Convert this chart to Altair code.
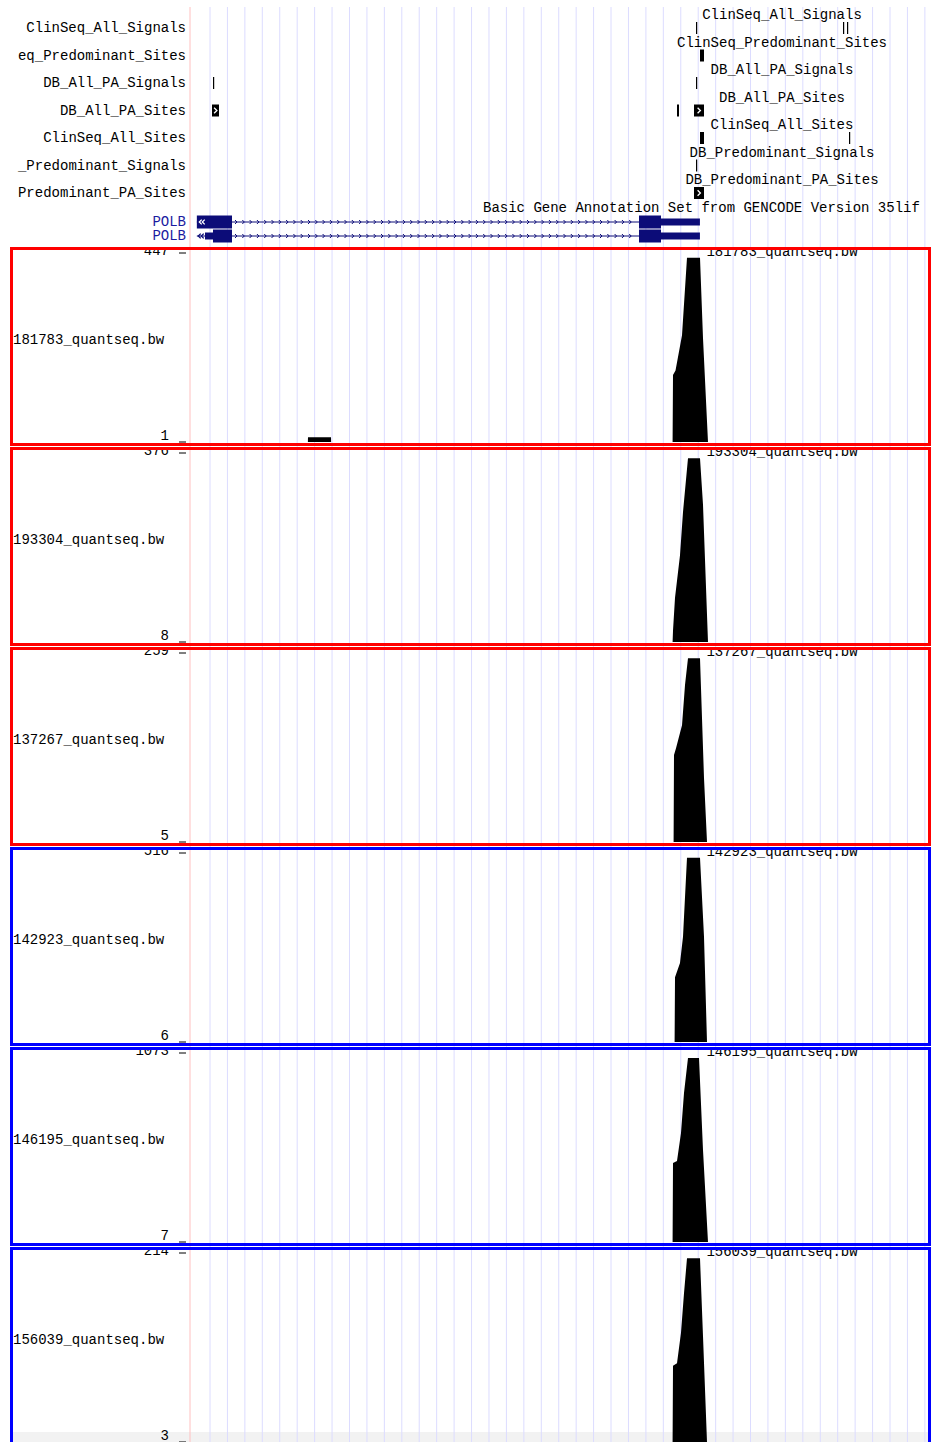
import altair as alt
import pandas as pd

# ---- browser window: chr8, drawn to the right of the label gutter ----
WIN_START = 42_338_000
WIN_END = 42_387_128
PIX_LEFT, PIX_RIGHT = 190, 931
W = 934
HEADER_H = 247
PANEL_H = 200
LAST_H = 195

FONT = "Liberation Mono"
FS = 14
NAVY = "#0c0c78"
GENE_LABEL = "#1a1aa0"
GUIDE = "#dcdcff"
PINK = "#ffc0c0"

x_scale = alt.Scale(domain=[WIN_START, WIN_END], range=[PIX_LEFT, PIX_RIGHT], nice=False, zero=False)

# vertical guidelines every ~1.16 kb
GUIDE_FIRST = 42_339_326
GUIDE_STEP = 1156
GUIDE_COUNT = 42
guide_pos = [GUIDE_FIRST + i * GUIDE_STEP for i in range(GUIDE_COUNT)]

# ---- annotation tracks ----
track_names = [
    "ClinSeq_All_Signals", "ClinSeq_Predominant_Sites", "DB_All_PA_Signals",
    "DB_All_PA_Sites", "ClinSeq_All_Sites", "DB_Predominant_Signals",
    "DB_Predominant_PA_Sites",
]
track_gutter_labels = [
    "ClinSeq_All_Signals", "eq_Predominant_Sites", "DB_All_PA_Signals",
    "DB_All_PA_Sites", "ClinSeq_All_Sites", "_Predominant_Signals",
    "Predominant_PA_Sites",
]

item_track = [0, 0, 0, 1, 2, 2, 3, 3, 3, 4, 4, 5, 6]
item_start = [42_371_548, 42_381_294, 42_381_559, 42_371_813, 42_339_525, 42_371_548,
              42_339_459, 42_370_288, 42_371_415, 42_371_813, 42_381_692, 42_371_548,
              42_371_415]
item_end = [42_371_628, 42_381_374, 42_381_639, 42_372_078, 42_339_605, 42_371_628,
            42_339_923, 42_370_421, 42_372_078, 42_372_078, 42_381_772, 42_371_628,
            42_372_078]
item_strand_arrow = [False, False, False, False, False, False,
                     True, False, True, False, False, False, True]

GENE_TRACK_TITLE = "Basic Gene Annotation Set from GENCODE Version 35lif"

# ---- POLB transcripts ----
tx_ids = ["tx1", "tx2"]
tx_label = ["POLB", "POLB"]
tx_intron_start = [42_338_454, 42_338_454]
tx_intron_end = [42_367_769, 42_367_769]

exon_tx = ["tx1", "tx1", "tx1", "tx2", "tx2", "tx2", "tx2"]
exon_start = [42_338_454, 42_367_769, 42_369_227, 42_338_995, 42_339_525, 42_367_769, 42_369_227]
exon_end = [42_340_785, 42_369_227, 42_371_808, 42_339_525, 42_340_785, 42_369_227, 42_371_808]
exon_kind = ["cds", "cds", "utr", "utr", "cds", "cds", "utr"]

# strand chevrons along the intron
INTRON_ARROW_FIRST = 42_341_050
INTRON_ARROW_LAST = 42_367_504
INTRON_ARROW_STEP = 484
# continuation chevrons at the window edge
edge_arrow_tx1 = [42_338_696, 42_338_895]
edge_arrow_tx2 = [42_338_630, 42_338_829]

# ---- quantseq coverage tracks ----
panel_names = ["181783_quantseq.bw", "193304_quantseq.bw", "137267_quantseq.bw",
               "142923_quantseq.bw", "146195_quantseq.bw", "156039_quantseq.bw"]
panel_min = [1, 8, 5, 6, 7, 3]
panel_max = [447, 376, 259, 516, 1073, 214]
panel_border = ["#ff0000", "#ff0000", "#ff0000", "#0000ff", "#0000ff", "#0000ff"]

cov_pos = [
    [42_345_815, 42_345_823, 42_347_348, 42_347_355,
     42_369_996, 42_370_023, 42_370_189, 42_370_620, 42_370_951, 42_371_813, 42_372_012, 42_372_343],
    [42_369_996, 42_370_023, 42_370_156, 42_370_487, 42_370_686, 42_371_017, 42_371_813, 42_372_012, 42_372_343],
    [42_370_062, 42_370_089, 42_370_222, 42_370_620, 42_370_819, 42_371_017, 42_371_813, 42_372_078, 42_372_277],
    [42_370_129, 42_370_156, 42_370_487, 42_370_686, 42_370_951, 42_371_813, 42_372_078, 42_372_277],
    [42_369_996, 42_370_023, 42_370_288, 42_370_553, 42_370_752, 42_371_017, 42_371_747, 42_372_012, 42_372_343],
    [42_369_996, 42_370_023, 42_370_288, 42_370_553, 42_370_752, 42_370_951, 42_371_813, 42_372_012, 42_372_277],
]
cov_val = [
    [1, 12, 12, 1, 1, 159, 170, 253, 436, 436, 246, 1],
    [8, 30, 94, 177, 261, 366, 366, 275, 8],
    [5, 122, 131, 162, 216, 252, 252, 91, 5],
    [6, 181, 219, 290, 503, 503, 290, 6],
    [7, 453, 464, 622, 847, 1045, 1045, 526, 7],
    [3, 88, 91, 125, 169, 208, 208, 121, 3],
]


def txt(**kw):
    base = dict(font=FONT, fontSize=FS, color="black")
    base.update(kw)
    return base


guides_df = pd.DataFrame({"pos": guide_pos})
one_row = pd.DataFrame({"k": [0]})


def guide_layer(y_top, y_bottom):
    return alt.Chart(guides_df).mark_rule(color=GUIDE, strokeWidth=1).encode(
        x=alt.X("pos:Q", scale=x_scale, axis=None),
        y=alt.value(y_top), y2=alt.value(y_bottom),
    )


def pink_layer(y_top, y_bottom):
    return alt.Chart(one_row).mark_rule(color=PINK, strokeWidth=1).encode(
        x=alt.value(PIX_LEFT), y=alt.value(y_top), y2=alt.value(y_bottom)
    )


# ---------------- header: annotation tracks and gene models ----------------
lane_scale = alt.Scale(type="point", domain=track_names, range=[28, 193], padding=0)
tx_scale = alt.Scale(type="point", domain=tx_ids, range=[222, 236], padding=0)

tracks_df = pd.DataFrame({"track": track_names, "gutter": track_gutter_labels})
items_df = pd.DataFrame({
    "track": [track_names[i] for i in item_track],
    "start": item_start, "end": item_end, "arrow": item_strand_arrow,
})
items_df["mid"] = (items_df["start"] + items_df["end"]) / 2

gutter_labels = alt.Chart(tracks_df).mark_text(**txt(align="right", baseline="middle")).encode(
    x=alt.value(186), y=alt.Y("track:N", scale=lane_scale, axis=None), text="gutter:N"
)
centre_labels = alt.Chart(tracks_df).mark_text(**txt(align="center", baseline="middle", dy=-13)).encode(
    x=alt.value(782), y=alt.Y("track:N", scale=lane_scale, axis=None), text="track:N"
)
items = alt.Chart(items_df).mark_bar(color="black", size=12).encode(
    x=alt.X("start:Q", scale=x_scale, axis=None), x2="end:Q",
    y=alt.Y("track:N", scale=lane_scale, axis=None),
)
item_arrows = alt.Chart(items_df).transform_filter("datum.arrow").mark_point(
    shape="M-0.4,-0.8L0.4,0L-0.4,0.8", size=49, filled=False, stroke="white", strokeWidth=1.3, opacity=1
).encode(
    x=alt.X("mid:Q", scale=x_scale, axis=None),
    y=alt.Y("track:N", scale=lane_scale, axis=None),
)

tx_df = pd.DataFrame({"tx": tx_ids, "label": tx_label, "s": tx_intron_start, "e": tx_intron_end})
exon_df = pd.DataFrame({"tx": exon_tx, "start": exon_start, "end": exon_end, "kind": exon_kind})
arrow_pos, arrow_tx = [], []
for t in tx_ids:
    p = INTRON_ARROW_FIRST
    while p <= INTRON_ARROW_LAST:
        arrow_pos.append(p)
        arrow_tx.append(t)
        p += INTRON_ARROW_STEP
intron_arrow_df = pd.DataFrame({"tx": arrow_tx, "pos": arrow_pos})
edge1_df = pd.DataFrame({"tx": ["tx1"] * len(edge_arrow_tx1), "pos": edge_arrow_tx1})
edge2_df = pd.DataFrame({"tx": ["tx2"] * len(edge_arrow_tx2), "pos": edge_arrow_tx2})

tx_y = alt.Y("tx:N", scale=tx_scale, axis=None)
introns = alt.Chart(tx_df).mark_rule(color=NAVY, strokeWidth=1).encode(
    x=alt.X("s:Q", scale=x_scale, axis=None), x2="e:Q", y=tx_y
)
intron_arrows = alt.Chart(intron_arrow_df).mark_point(
    shape="M-0.4,-0.8L0.4,0L-0.4,0.8", size=25, filled=False, stroke=NAVY, strokeWidth=1, opacity=1
).encode(x=alt.X("pos:Q", scale=x_scale, axis=None), y=tx_y)
exons = alt.Chart(exon_df).mark_bar(color=NAVY).encode(
    x=alt.X("start:Q", scale=x_scale, axis=None), x2="end:Q", y=tx_y,
    size=alt.Size("kind:N", scale=alt.Scale(domain=["cds", "utr"], range=[13, 7]), legend=None),
)
edge_arrows1 = alt.Chart(edge1_df).mark_point(
    shape="M0.4,-0.8L-0.4,0L0.4,0.8", size=36, filled=False, stroke="white", strokeWidth=1.3, opacity=1
).encode(x=alt.X("pos:Q", scale=x_scale, axis=None), y=tx_y)
edge_arrows2 = alt.Chart(edge2_df).mark_point(
    shape="M0.4,-0.8L-0.4,0L0.4,0.8", size=36, filled=False, stroke=NAVY, strokeWidth=1.3, opacity=1
).encode(x=alt.X("pos:Q", scale=x_scale, axis=None), y=tx_y)
tx_labels = alt.Chart(tx_df).mark_text(**txt(align="right", baseline="middle", color=GENE_LABEL)).encode(
    x=alt.value(186), y=tx_y, text="label:N"
)
gene_title = alt.Chart(one_row).mark_text(**txt(align="left", baseline="middle")).encode(
    x=alt.value(483), y=alt.value(208), text=alt.value(GENE_TRACK_TITLE)
)

header = alt.layer(
    guide_layer(7, HEADER_H), pink_layer(7, HEADER_H),
    gutter_labels, centre_labels, items, item_arrows, gene_title,
    introns, intron_arrows, exons, edge_arrows1, edge_arrows2, tx_labels,
).resolve_scale(y="independent").properties(width=W, height=HEADER_H)


# ---------------- coverage panels ----------------
def signal_panel(i, height):
    lo, hi = panel_min[i], panel_max[i]
    y_scale = alt.Scale(domain=[lo, hi], range=[195, 6], nice=False, zero=False, clamp=True)
    cov = pd.DataFrame({"pos": cov_pos[i], "val": cov_val[i]})
    lim = pd.DataFrame({"v": [hi, lo], "t": [str(hi), str(lo)], "off": [0, -2]})

    layers = []
    if height < PANEL_H:
        # faint band along the bottom edge
        layers.append(alt.Chart(one_row).mark_rect(color="#f2f2f2").encode(
            x=alt.value(13), x2=alt.value(928), y=alt.value(height - 10), y2=alt.value(height)
        ))
    layers += [
        guide_layer(0, height),
        pink_layer(0, height),
        alt.Chart(cov).mark_area(color="black", interpolate="linear", opacity=1).encode(
            x=alt.X("pos:Q", scale=x_scale, axis=None),
            y=alt.Y("val:Q", scale=y_scale, axis=None),
            y2=alt.datum(lo),
        ),
        alt.Chart(lim).mark_rule(color="black", strokeWidth=1).encode(
            x=alt.value(179), x2=alt.value(186), y=alt.Y("v:Q", scale=y_scale, axis=None)
        ),
        # upper limit label sits on its tick (its top runs under the frame),
        # lower limit label a little above its tick
        alt.Chart(lim).transform_filter("datum.off == 0").mark_text(
            **txt(align="right", baseline="alphabetic", dy=2, clip=True)
        ).encode(x=alt.value(169), y=alt.Y("v:Q", scale=y_scale, axis=None), text="t:N"),
        alt.Chart(lim).transform_filter("datum.off != 0").mark_text(
            **txt(align="right", baseline="alphabetic", dy=-2)
        ).encode(x=alt.value(169), y=alt.Y("v:Q", scale=y_scale, axis=None), text="t:N"),
        alt.Chart(one_row).mark_text(**txt(align="left", baseline="middle")).encode(
            x=alt.value(13), y=alt.value(93), text=alt.value(panel_names[i])
        ),
        alt.Chart(one_row).mark_text(**txt(align="center", baseline="middle", clip=True)).encode(
            x=alt.value(782), y=alt.value(4.5), text=alt.value(panel_names[i])
        ),
        alt.Chart(one_row).mark_rect(
            fillOpacity=0, stroke=panel_border[i], strokeWidth=3, clip=True
        ).encode(
            x=alt.value(11.5), x2=alt.value(929.5), y=alt.value(1.5),
            y2=alt.value(197.5 if height >= PANEL_H else height + 10),
        ),
    ]
    return alt.layer(*layers).properties(width=W, height=height)


panels = [signal_panel(i, PANEL_H if i < 5 else LAST_H) for i in range(6)]

chart = alt.vconcat(header, *panels, spacing=0, bounds="flush").properties(
    padding=0
).configure_view(strokeWidth=0).configure_text(font=FONT)

chart.save("out.html", embed_options={"renderer": "svg", "actions": False})
